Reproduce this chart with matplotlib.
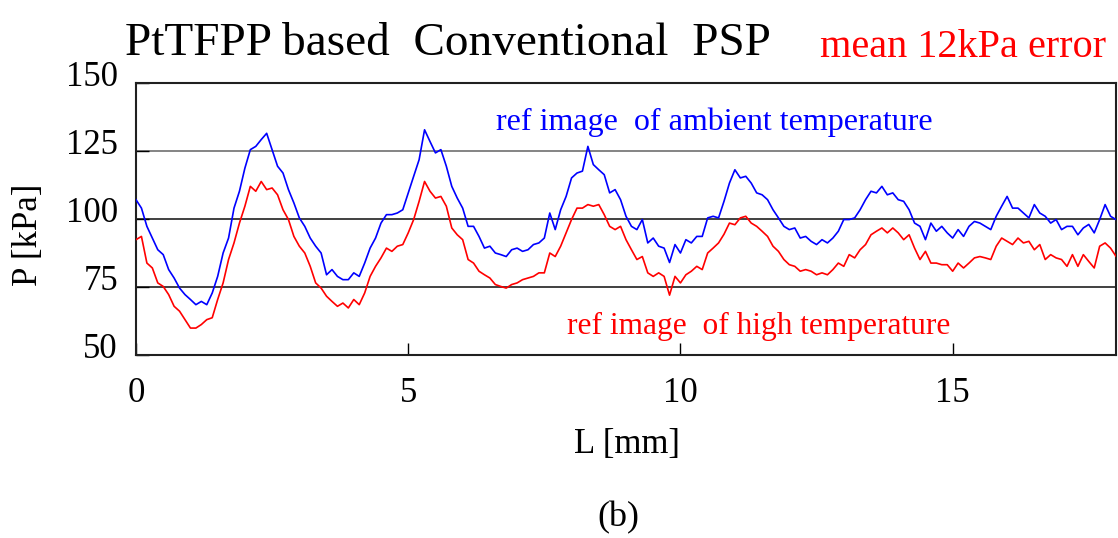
import numpy as np
import matplotlib.pyplot as plt
import matplotlib.transforms as mtransforms

plt.rcParams['font.family'] = ['Liberation Serif', 'DejaVu Serif']

# Posição ao longo da linha [mm], amostrada a cada 0.1 mm
L = np.round(np.linspace(0, 18, 181), 2)

# Pressão com imagem de referência à temperatura ambiente [kPa]
p_ambiente = [
    107.1, 104.0, 97.3, 93.0, 88.7, 86.9, 81.4, 78.3, 74.6, 72.2,
    70.4, 68.5, 69.7, 68.5, 72.8, 78.9, 87.5, 93.0, 104.0, 110.2,
    118.7, 125.5, 126.7, 129.2, 131.5, 125.5, 119.4, 116.9, 110.8, 105.9,
    100.4, 97.3, 93.0, 90.0, 87.5, 79.5, 81.4, 78.9, 77.7, 77.7,
    80.2, 78.9, 83.8, 89.3, 93.0, 98.5, 101.6, 101.6, 102.2, 103.4,
    109.6, 115.7, 121.8, 132.8, 128.5, 124.3, 125.5, 119.4, 112.0, 107.7,
    104.0, 97.3, 97.3, 93.6, 89.3, 90.0, 87.5, 86.9, 86.2, 88.7,
    89.3, 88.1, 88.7, 90.6, 91.2, 93.0, 102.2, 96.1, 103.4, 108.3,
    115.1, 116.9, 117.6, 126.7, 120.0, 118.1, 116.3, 109.6, 110.8,
    107.1, 101.0, 97.3, 96.1, 99.8, 91.2, 93.0, 90.0, 89.3, 84.0,
    90.6, 87.5, 92.4, 91.2, 93.6, 93.6, 100.4, 101.0, 100.4, 106.5,
    113.2, 118.1, 115.1, 115.7, 113.2, 109.6, 108.9, 107.1, 103.4, 100.4,
    97.3, 96.1, 96.7, 93.0, 93.6, 91.8, 90.6, 92.4, 91.2, 93.0,
    95.5, 99.8, 99.8, 100.4, 103.4, 107.1, 110.2, 109.6, 112.0, 108.9,
    109.6, 107.1, 106.5, 103.4, 98.5, 97.3, 92.4, 98.5, 95.5,
    97.3, 94.9, 93.0, 96.1, 93.6, 97.3, 99.1, 98.5, 97.3, 96.1,
    101.0, 104.7, 108.3, 104.0, 104.0, 102.2, 100.4, 105.3, 102.2, 101.0,
    98.5, 99.8, 96.1, 97.3, 97.3, 94.2, 96.7, 98.0, 94.9, 99.8,
    105.3, 101.0, 99.8,
]

# Pressão com imagem de referência à alta temperatura [kPa]
p_alta = [
    92.4, 93.6, 83.8, 82.0, 76.5, 75.2, 72.2, 67.9, 66.1, 63.0,
    59.9, 59.9, 61.2, 63.0, 63.7, 70.4, 76.5, 85.1, 91.2, 98.5,
    104.7, 112.0, 110.2, 113.8, 110.8, 111.4, 108.9, 103.4, 99.8, 93.6,
    90.0, 87.5, 82.6, 76.5, 74.6, 71.6, 69.7, 67.9, 69.1, 67.3,
    70.4, 68.5, 72.8, 78.9, 82.6, 85.7, 89.3, 88.1, 90.0, 90.6,
    94.9, 99.8, 106.5, 113.8, 110.2, 107.7, 108.3, 104.7, 96.7, 94.2,
    92.4, 85.1, 83.8, 80.8, 79.5, 78.3, 75.9, 75.2, 74.6, 75.9,
    76.5, 77.7, 78.3, 78.9, 80.2, 80.2, 87.5, 86.2, 90.0, 94.9,
    99.8, 104.0, 104.0, 105.3, 104.7, 105.3, 101.6, 97.3, 96.1,
    97.3, 92.4, 88.7, 85.1, 86.2, 80.2, 78.9, 80.2, 78.9, 72.0,
    78.9, 76.5, 79.5, 80.8, 82.6, 81.4, 87.5, 89.3, 91.2, 94.4,
    98.5, 97.9, 100.4, 101.0, 98.5, 97.3, 95.5, 93.6, 90.0, 88.1,
    85.1, 83.2, 82.6, 80.8, 81.4, 80.8, 79.5, 80.2, 79.5, 81.4,
    83.8, 82.6, 86.9, 85.7, 88.7, 90.6, 94.2, 95.5, 96.7, 94.9,
    96.7, 94.9, 92.4, 94.2, 89.3, 85.1, 88.1, 83.8, 83.8,
    83.2, 83.2, 80.8, 83.8, 82.0, 83.8, 85.7, 86.2, 85.7, 85.1,
    90.0, 93.0, 91.8, 90.6, 93.0, 91.2, 91.8, 88.7, 90.6, 85.1,
    86.9, 85.7, 85.1, 82.6, 86.9, 82.6, 86.9, 84.4, 82.0, 90.0,
    91.2, 89.3, 86.3,
]

xticks = [0, 5, 10, 15]
yticks = [50, 75, 100, 125, 150]

fig = plt.figure(figsize=(11.18, 5.38), dpi=100)
ax = fig.add_axes([136 / 1118, 1 - 355 / 538, 980 / 1118, 272 / 538])

# linhas de grade horizontais
ax.axhline(125, color='#707070', lw=1.2, zorder=1)
ax.axhline(100, color='#202020', lw=1.2, zorder=1)
ax.axhline(75, color='#202020', lw=1.2, zorder=1)

ax.plot(L, p_ambiente, color='#0000ff', lw=1.2, zorder=3)
ax.plot(L, p_alta, color='#ff0000', lw=1.2, zorder=3)

ax.set_xlim(0, 18)
ax.set_ylim(50, 150)
ax.set_xticks(xticks)
ax.set_yticks(yticks)
ax.tick_params(axis='both', direction='in', length=9, width=1, labelsize=25)
ax.tick_params(axis='x', pad=16)
ax.tick_params(axis='y', pad=13)
for s in ax.spines.values():
    s.set_linewidth(1.5)
    s.set_color('#202020')

# rótulos do eixo y ficam um pouco acima das linhas, como no original
desloc = mtransforms.ScaledTranslation(0, 9 / 100, fig.dpi_scale_trans)
for lbl in ax.get_yticklabels():
    lbl.set_transform(lbl.get_transform() + desloc)

fig.text(28 / 1118, 1 - 235 / 538, 'P [kPa]', rotation=90, fontsize=25,
         ha='center', va='center')
fig.text(627 / 1118, 1 - 445 / 538, 'L [mm]', fontsize=25, ha='center', va='center')
fig.text(618 / 1118, 1 - 518 / 538, '(b)', fontsize=26, ha='center', va='center')

fig.text(125 / 1118, 1 - 55 / 538, 'PtTFPP based  Conventional  PSP', fontsize=34,
         ha='left', va='baseline')
fig.text(1106 / 1118, 1 - 57 / 538, 'mean 12kPa error', fontsize=29, color='#ff0000',
         ha='right', va='baseline')

ax.text(6.62, 135.5, 'ref image  of ambient temperature', fontsize=23, color='#0000ff',
        ha='left', va='center')
ax.text(7.91, 60.5, 'ref image  of high temperature', fontsize=22.6, color='#ff0000',
        ha='left', va='center')

fig.savefig('out.png', dpi=100)
